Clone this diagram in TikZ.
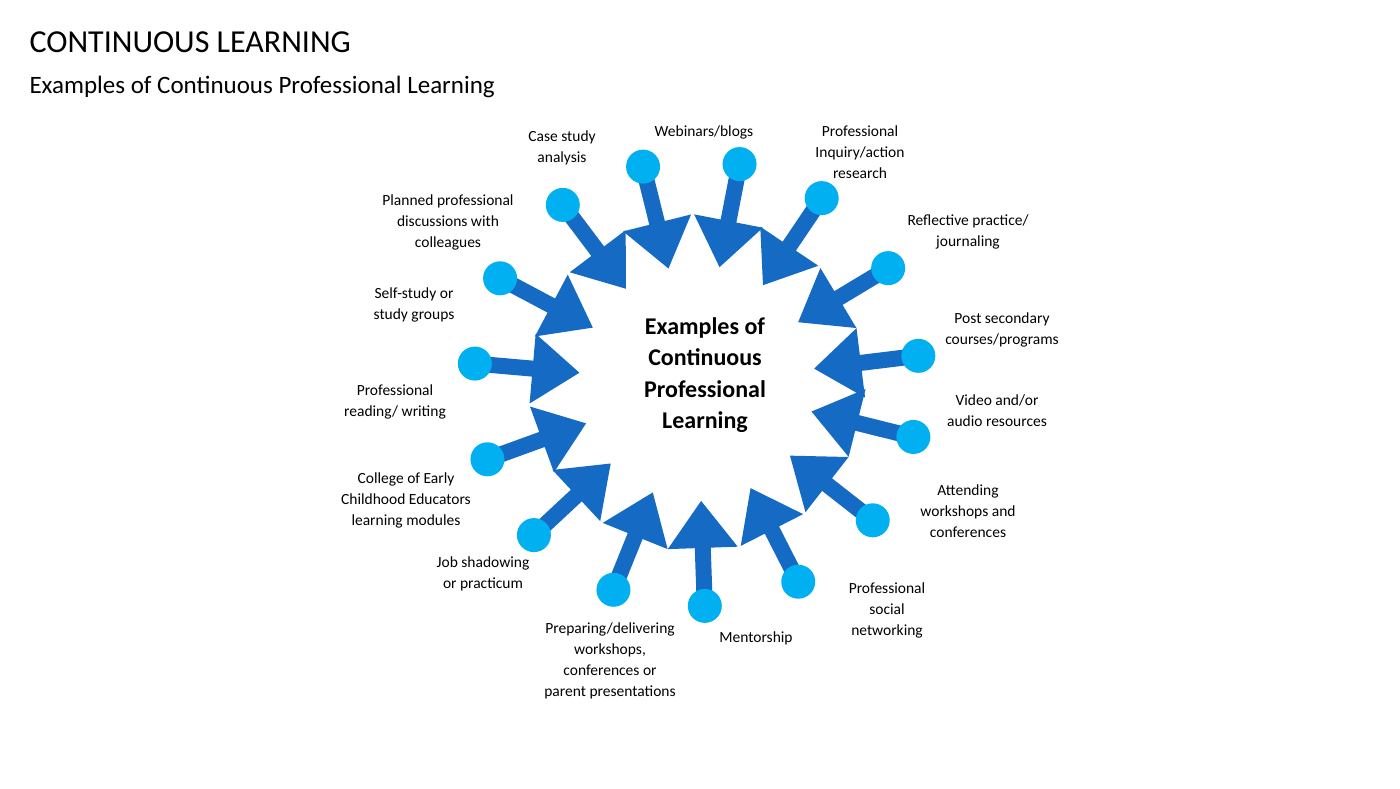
\documentclass[tikz,border=0pt]{standalone}
\usepackage{fontspec}
\setmainfont{Carlito}
\definecolor{arrowblue}{RGB}{21,106,196}
\definecolor{dotblue}{RGB}{0,176,240}
\begin{document}
\begin{tikzpicture}[x=1pt,y=-1pt,
  lbl/.style={align=center,font=\fontsize{15.5}{21}\selectfont},
  spokefill/.style={fill=arrowblue},
  dot/.style={circle,fill=dotblue,minimum size=34pt,inner sep=0pt}]
\useasboundingbox (0,0) rectangle (1400,788);
\node[anchor=west,font=\fontsize{32}{36}\selectfont] (title) at (26,42) {CONTINUOUS LEARNING};
\node[anchor=west,font=\fontsize{25}{28}\selectfont] (sub) at (26,87) {Examples of Continuous Professional Learning};
\coordinate (C) at (697,383);
\foreach \a [count=\i] in {88,63,38,14,-7,-31,-56,-79,-104,-127,-152,-175,160,137,112}{
  \begin{scope}[shift={(C)},rotate=-\a]
    \fill[spokefill] (118,0) -- (165,35) -- (165,8) -- (212,8) -- (212,-8) -- (165,-8) -- (165,-35) -- cycle;
    \node[dot] (d\i) at (223,0) {};
  \end{scope}
}
\node[font=\bfseries\fontsize{24}{31.5}\selectfont,align=center] (center) at (705,375) {Examples of\\Continuous\\Professional\\Learning};
\node[lbl] (l1) at (704,132) {Webinars/blogs};
\node[lbl] (l2) at (860,152) {Professional\\Inquiry/action\\research};
\node[lbl] (l3) at (968,232) {Reflective practice/\\journaling};
\node[lbl] (l4) at (1002,330) {Post secondary\\courses/programs};
\node[lbl] (l5) at (997,411) {Video and/or\\audio resources};
\node[lbl] (l6) at (968,511) {Attending\\workshops and\\conferences};
\node[lbl] (l7) at (887,610) {Professional\\social\\networking};
\node[lbl] (l8) at (756,638) {Mentorship};
\node[lbl] (l9) at (610,661) {Preparing/delivering\\workshops,\\conferences or\\parent presentations};
\node[lbl] (l10) at (483,574) {Job shadowing\\or practicum};
\node[lbl] (l11) at (406,500) {College of Early\\Childhood Educators\\learning modules};
\node[lbl] (l12) at (395,402) {Professional\\reading/ writing};
\node[lbl] (l13) at (414,305) {Self-study or\\study groups};
\node[lbl] (l14) at (448,222) {Planned professional\\discussions with\\colleagues};
\node[lbl] (l15) at (562,148) {Case study\\analysis};
\end{tikzpicture}
\end{document}
